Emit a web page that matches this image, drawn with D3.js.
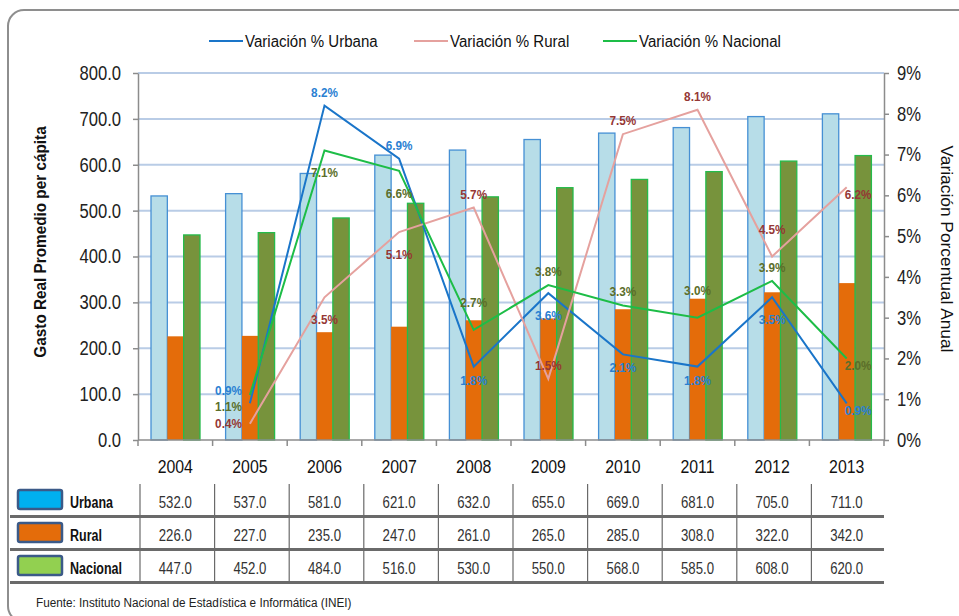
<!DOCTYPE html>
<html>
<head>
<meta charset="utf-8">
<script src="https://cdn.jsdelivr.net/npm/d3@7"></script>
<style>
  body { margin: 0; background: #fff; }
  svg { display: block; font-family: 'Liberation Sans', Arial, sans-serif; }
</style>
</head>
<body>
<div id="chart"></div>
<script>
// Gasto real promedio per cápita (soles)
const years = ['2004', '2005', '2006', '2007', '2008', '2009', '2010', '2011', '2012', '2013'];
const urbana = [532, 537, 581, 621, 632, 655, 669, 681, 705, 711];
const rural = [226, 227, 235, 247, 261, 265, 285, 308, 322, 342];
const nacional = [447, 452, 484, 516, 530, 550, 568, 585, 608, 620];

// variación porcentual anual (desde 2005)
const varYears = years.slice(1);
const varUrbana = [0.9, 8.2, 6.9, 1.8, 3.6, 2.1, 1.8, 3.5, 0.9];
const varRural = [0.4, 3.5, 5.1, 5.7, 1.5, 7.5, 8.1, 4.5, 6.2];
const varNacional = [1.1, 7.1, 6.6, 2.7, 3.8, 3.3, 3.0, 3.9, 2.0];

const leftTicks = [0, 100, 200, 300, 400, 500, 600, 700, 800];
const rightTicks = [0, 1, 2, 3, 4, 5, 6, 7, 8, 9];

// where each data label sits relative to its point
const placeUrbana = ['lt', 't', 't', 'b', 'B', 'b', 'b', 'B', 'r'];
const placeRural = ['l', 'B', 'B', 't', 't', 't', 't', 'T', 'r'];
const placeNacional = ['lb', 'B', 'B', 'T', 't', 't', 'T', 't', 'r'];

const W = 959, H = 616;
const plot = { left: 138, right: 884, top: 73, bottom: 440 };

// squeeze text horizontally so Arial-like glyphs look like the narrower original
function condense(sel, k) {
  sel.each(function () {
    const w = this.getComputedTextLength();
    d3.select(this)
      .attr('textLength', w * k)
      .attr('lengthAdjust', 'spacingAndGlyphs');
  });
}

const svg = d3.select('#chart').append('svg')
  .attr('width', W)
  .attr('height', H);

// outer frame (rounded, runs off the right/bottom edge)
svg.append('rect')
  .attr('x', 8).attr('y', 10)
  .attr('width', 1000).attr('height', 612)
  .attr('rx', 16)
  .attr('fill', 'none')
  .attr('stroke', '#8e8e8e')
  .attr('stroke-width', 2);

// scales
const x = d3.scaleBand().domain(years).range([plot.left, plot.right]);
const xInner = d3.scaleBand().domain(['Urbana', 'Rural', 'Nacional']).range([13, 62]);
const yL = d3.scaleLinear().domain([0, 800]).range([plot.bottom, plot.top]);
const yR = d3.scaleLinear().domain([0, 9]).range([plot.bottom, plot.top]);
const cx = (yr) => x(yr) + x.bandwidth() / 2;

// gridlines
svg.append('g').selectAll('line')
  .data(leftTicks.filter((d) => d > 0))
  .join('line')
  .attr('x1', plot.left).attr('x2', plot.right)
  .attr('y1', (d) => yL(d)).attr('y2', (d) => yL(d))
  .attr('stroke', '#b9cce6')
  .attr('stroke-width', 2);

// bars
const barSeries = [
  { key: 'Urbana', values: urbana, fill: '#b7dde8', stroke: '#4690d4' },
  { key: 'Rural', values: rural, fill: '#e46c0a', stroke: 'none' },
  { key: 'Nacional', values: nacional, fill: '#77933c', stroke: '#25bb4b' },
];

svg.append('g').selectAll('g')
  .data(barSeries)
  .join('g')
  .attr('fill', (s) => s.fill)
  .attr('stroke', (s) => s.stroke)
  .attr('stroke-width', 1.3)
  .selectAll('rect')
  .data((s) => s.values.map((v, i) => ({ key: s.key, year: years[i], value: v })))
  .join('rect')
  .attr('x', (d) => x(d.year) + xInner(d.key))
  .attr('y', (d) => yL(d.value))
  .attr('width', xInner.bandwidth())
  .attr('height', (d) => yL(0) - yL(d.value));

// axes
const axisColor = '#8c8c8c';
const leftAxis = svg.append('g')
  .attr('transform', `translate(${plot.left},0)`)
  .call(d3.axisLeft(yL).tickValues(leftTicks).tickFormat(d3.format('.1f'))
    .tickSize(5).tickPadding(12).tickSizeOuter(0));
const rightAxis = svg.append('g')
  .attr('transform', `translate(${plot.right},0)`)
  .call(d3.axisRight(yR).tickValues(rightTicks).tickFormat((d) => `${d}%`)
    .tickSize(5).tickPadding(8).tickSizeOuter(0));
[leftAxis, rightAxis].forEach((g) => {
  g.selectAll('path, line').attr('stroke', axisColor).attr('stroke-width', 1.5);
  g.selectAll('text')
    .attr('font-family', "'Liberation Sans', Arial, sans-serif")
    .attr('font-size', 20)
    .attr('fill', '#222')
    .call(condense, 0.83);
});

// category axis line with ticks between years
svg.append('line')
  .attr('x1', plot.left).attr('x2', plot.right)
  .attr('y1', plot.bottom).attr('y2', plot.bottom)
  .attr('stroke', axisColor).attr('stroke-width', 1.5);
svg.append('g').selectAll('line')
  .data(years.map((yr) => x(yr)).concat([plot.right]))
  .join('line')
  .attr('x1', (d) => d).attr('x2', (d) => d)
  .attr('y1', plot.bottom).attr('y2', plot.bottom + 6)
  .attr('stroke', axisColor).attr('stroke-width', 1.5);

svg.append('g').selectAll('text')
  .data(years)
  .join('text')
  .attr('x', (d) => cx(d))
  .attr('y', 473)
  .attr('text-anchor', 'middle')
  .attr('font-size', 18)
  .attr('fill', '#111')
  .text((d) => d)
  .call(condense, 0.88);

// axis titles
svg.append('text')
  .attr('transform', 'translate(46,242) rotate(-90)')
  .attr('text-anchor', 'middle')
  .attr('font-size', 17)
  .attr('font-weight', 'bold')
  .attr('fill', '#111')
  .text('Gasto Real Promedio per cápita')
  .call(condense, 0.9);
svg.append('text')
  .attr('transform', 'translate(941,249) rotate(90)')
  .attr('text-anchor', 'middle')
  .attr('font-size', 17)
  .attr('fill', '#111')
  .text('Variación Porcentual Anual')
  .call(condense, 1.02);

// lines of annual variation
const lineSeries = [
  { key: 'Urbana', values: varUrbana, color: '#1a75c9', labelColor: '#2a80d2', place: placeUrbana },
  { key: 'Rural', values: varRural, color: '#e5a19e', labelColor: '#953735', place: placeRural },
  { key: 'Nacional', values: varNacional, color: '#1dbd47', labelColor: '#5b6e2a', place: placeNacional },
];

const line = d3.line()
  .x((d) => cx(d.year))
  .y((d) => yR(d.value));

lineSeries.forEach((s) => {
  s.points = s.values.map((v, i) => ({ year: varYears[i], value: v, place: s.place[i] }));
});

svg.append('g').selectAll('path')
  .data(lineSeries)
  .join('path')
  .attr('d', (s) => line(s.points))
  .attr('fill', 'none')
  .attr('stroke', (s) => s.color)
  .attr('stroke-width', 2);

const placeOffset = {
  t: { dx: 0, dy: -9, anchor: 'middle' },
  T: { dx: 0, dy: -23, anchor: 'middle' },
  b: { dx: 0, dy: 18, anchor: 'middle' },
  B: { dx: 0, dy: 27, anchor: 'middle' },
  l: { dx: -8, dy: 4, anchor: 'end' },
  lt: { dx: -8, dy: -8, anchor: 'end' },
  lb: { dx: -8, dy: 16, anchor: 'end' },
  r: { dx: -2, dy: 12, anchor: 'start' },
};

lineSeries.forEach((s) => {
  svg.append('g').selectAll('text')
    .data(s.points)
    .join('text')
    .attr('x', (d) => cx(d.year) + placeOffset[d.place].dx)
    .attr('y', (d) => yR(d.value) + placeOffset[d.place].dy)
    .attr('text-anchor', (d) => placeOffset[d.place].anchor)
    .attr('font-size', 13.5)
    .attr('font-weight', 'bold')
    .attr('fill', s.labelColor)
    .text((d) => `${d3.format('.1f')(d.value)}%`)
    .call(condense, 0.87);
});

// legend
const legendX = [209, 414, 603];
const legend = svg.append('g').selectAll('g')
  .data(lineSeries)
  .join('g')
  .attr('transform', (d, i) => `translate(${legendX[i]},41)`);
legend.append('line')
  .attr('x1', 0).attr('x2', 34)
  .attr('stroke', (d) => d.color)
  .attr('stroke-width', 2);
legend.append('text')
  .attr('x', 36).attr('y', 6)
  .attr('font-size', 16)
  .attr('fill', '#111')
  .text((d) => `Variación % ${d.key}`)
  .call(condense, 0.94);

// data table under the chart
const tableRows = [
  { key: 'Urbana', values: urbana, fill: '#00b0f0' },
  { key: 'Rural', values: rural, fill: '#e46c0a' },
  { key: 'Nacional', values: nacional, fill: '#92d050' },
];
const rowTop = 484, rowH = 33;

const rows = svg.append('g').selectAll('g')
  .data(tableRows)
  .join('g')
  .attr('transform', (d, i) => `translate(0,${rowTop + i * rowH})`);

rows.append('rect')
  .attr('x', 18).attr('y', 6)
  .attr('width', 44).attr('height', 19)
  .attr('rx', 2)
  .attr('fill', (d) => d.fill)
  .attr('stroke', '#3b5a88')
  .attr('stroke-width', 2.5);

rows.append('text')
  .attr('x', 70).attr('y', 24)
  .attr('font-size', 16)
  .attr('font-weight', 'bold')
  .attr('fill', '#111')
  .text((d) => d.key)
  .call(condense, 0.78);

rows.selectAll('text.val')
  .data((d) => d.values.map((v, i) => ({ year: years[i], value: v })))
  .join('text')
  .attr('class', 'val')
  .attr('x', (d) => cx(d.year))
  .attr('y', 24)
  .attr('text-anchor', 'middle')
  .attr('font-size', 16.5)
  .attr('fill', '#333')
  .text((d) => d3.format('.1f')(d.value))
  .call(condense, 0.8);

rows.append('line')
  .attr('x1', 10).attr('x2', plot.right)
  .attr('y1', rowH - 0.5).attr('y2', rowH - 0.5)
  .attr('stroke', '#6a6a6a')
  .attr('stroke-width', 3);

svg.append('g').selectAll('line')
  .data(years)
  .join('line')
  .attr('x1', (d) => x(d) + 2).attr('x2', (d) => x(d) + 2)
  .attr('y1', rowTop).attr('y2', rowTop + 3 * rowH)
  .attr('stroke', '#6a6a6a')
  .attr('stroke-width', 1.2);

// source
svg.append('text')
  .attr('x', 36).attr('y', 607)
  .attr('font-size', 12.5)
  .attr('fill', '#222')
  .text('Fuente: Instituto Nacional de Estadística e Informática  (INEI)')
  .call(condense, 0.94);
</script>
</body>
</html>
